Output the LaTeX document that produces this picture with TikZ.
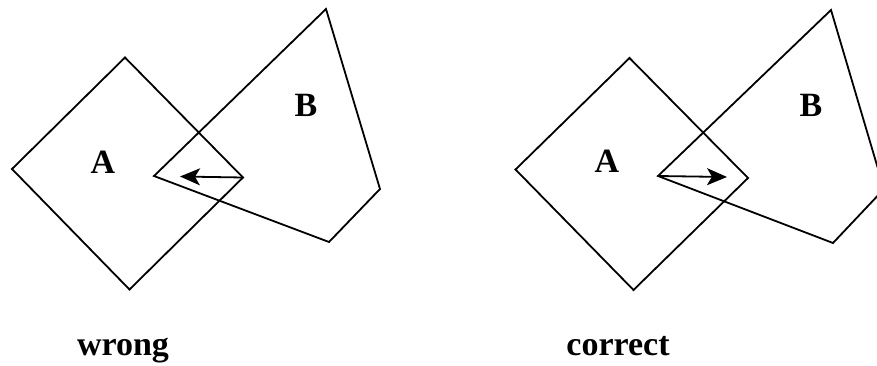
\documentclass[tikz,border=0pt]{standalone}
\usepackage{fontspec}
\setmainfont{Liberation Serif}
\usetikzlibrary{arrows.meta}
\begin{document}
\begin{tikzpicture}[x=1pt,y=-1pt,
  poly/.style={line width=1.8pt, line join=miter},
  vec/.style={line width=1.8pt, arrows={-Stealth[length=20pt,width=17pt,inset=5pt]}},
  lbl/.style={font=\fontsize{34}{36}\selectfont\bfseries, anchor=base, inner sep=0pt}]
\clip (0,0) rectangle (877,366);
% left figure
\coordinate (a1) at (12,169);
\coordinate (a2) at (125,57.5);
\coordinate (a3) at (243,177.5);
\coordinate (a4) at (129.5,289.5);
\coordinate (b1) at (154,176);
\coordinate (b2) at (326,9);
\coordinate (b3) at (380,189);
\coordinate (b4) at (329,242);
\coordinate (t1) at (180,176.5);
\draw[poly] (a1) -- (a2) -- (a3) -- (a4) -- cycle;
\draw[poly] (b1) -- (b2) -- (b3) -- (b4) -- cycle;
\draw[vec] (a3) -- (t1);
\node[lbl] (la) at (103,173) {A};
\node[lbl] (lb) at (306,117) {B};
\node[lbl] (lw) at (123,355) {wrong};
% right figure
\coordinate (c1) at (515.5,169.5);
\coordinate (c2) at (629.5,58);
\coordinate (c3) at (748,178);
\coordinate (c4) at (633.5,290);
\coordinate (d1) at (658,176);
\coordinate (d2) at (831,10);
\coordinate (d3) at (884,189);
\coordinate (d4) at (833,243);
\coordinate (t2) at (727,177);
\draw[poly] (c1) -- (c2) -- (c3) -- (c4) -- cycle;
\draw[poly] (d1) -- (d2) -- (d3) -- (d4) -- cycle;
\draw[vec] (d1) -- (t2);
\node[lbl] (ra) at (607,172) {A};
\node[lbl] (rb) at (811,117) {B};
\node[lbl] (rc) at (618,355) {correct};
\end{tikzpicture}
\end{document}
